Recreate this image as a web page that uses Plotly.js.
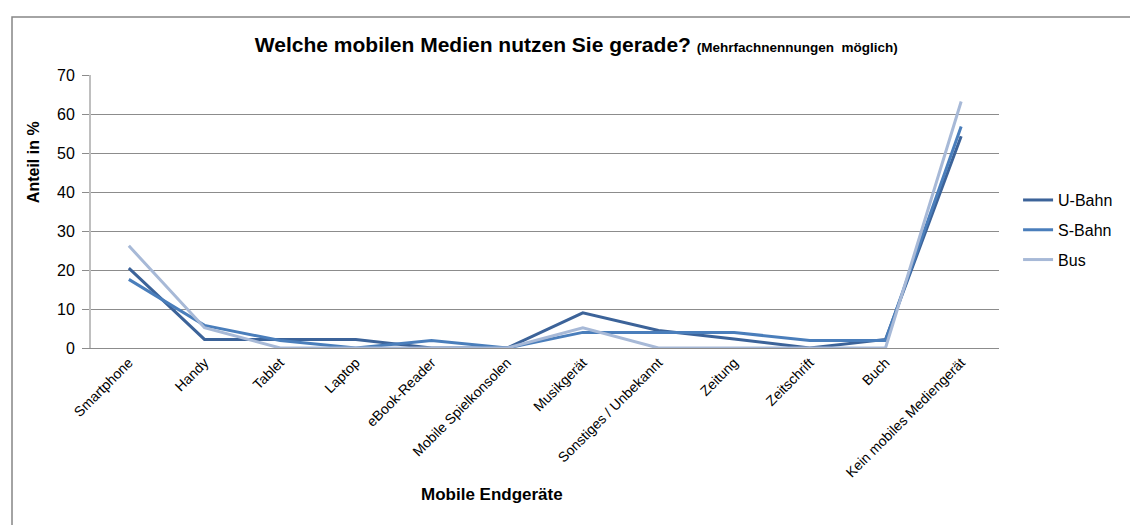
<!DOCTYPE html>
<html>
<head>
<meta charset="utf-8">
<script src="https://cdn.plot.ly/plotly-3.0.1.min.js"></script>
<style>
html,body{margin:0;padding:0;background:#fff;}
#chart{width:1130px;height:525px;}
</style>
</head>
<body>
<div id="chart"></div>
<script>
const categories = ["Smartphone","Handy","Tablet","Laptop","eBook-Reader","Mobile Spielkonsolen","Musikgerät","Sonstiges / Unbekannt","Zeitung","Zeitschrift","Buch","Kein mobiles Mediengerät"];
const uBahn = [20.5, 2.2, 2.2, 2.2, 0, 0, 9.0, 4.5, 2.3, 0, 2.2, 54.3];
const sBahn = [17.6, 5.8, 1.9, 0, 1.9, 0, 4.0, 4.0, 4.0, 1.9, 1.9, 56.8];
const bus   = [26.2, 5.2, 0, 0, 0, 0, 5.2, 0, 0, 0, 0, 63.2];
const seriesNames = ["U-Bahn","S-Bahn","Bus"];
const seriesColors = ["#3C6399","#4A7EBB","#A7B9D7"];
const yTicks = [0,10,20,30,40,50,60,70];

const FONT = "Arial, Liberation Sans, sans-serif";
const allSeries = [uBahn, sBahn, bus];
const traces = allSeries.map((vals, i) => ({
  type: "scatter",
  mode: "lines",
  x: categories,
  y: vals,
  name: seriesNames[i],
  legendgroup: "g" + i,
  line: {color: seriesColors[i], width: 3}
}));

const layout = {
  width: 1130,
  height: 525,
  paper_bgcolor: "#fff",
  plot_bgcolor: "#fff",
  margin: {l: 91, r: 122, t: 75, b: 177},
  showlegend: true,
  legend: {
    x: 1.021, y: 0.432, xanchor: "left", yanchor: "middle",
    font: {family: FONT, size: 16, color: "#000"},
    tracegroupgap: 6, traceorder: "grouped", itemwidth: 30
  },
  title: {
    text: "<b>Welche mobilen Medien nutzen Sie gerade? <span style='font-size:13.5px'>(Mehrfachnennungen  möglich)</span></b>",
    font: {family: FONT, size: 21, color: "#000"},
    x: 0.51, xanchor: "center", y: 0.915, yanchor: "middle", xref: "container"
  },
  xaxis: {
    type: "category",
    tickangle: -45,
    tickfont: {family: FONT, size: 14, color: "#000"},
    showgrid: false,
    showline: true, linecolor: "#8C8C8C", linewidth: 1,
    ticks: "",
    automargin: false,
    range: [-0.5, 11.5]
  },
  yaxis: {
    range: [0, 70],
    tickvals: yTicks,
    ticktext: yTicks.map(String),
    tickfont: {family: FONT, size: 16, color: "#000"},
    showgrid: true, gridcolor: "#8C8C8C", gridwidth: 1,
    showline: true, linecolor: "#BFBFBF", linewidth: 2,
    ticks: "outside", ticklen: 7, tickcolor: "#8C8C8C",
    ticklabelstandoff: 4,
    zeroline: false,
    automargin: false
  },
  annotations: [
    {text: "<b>Mobile Endgeräte</b>", xref: "paper", yref: "paper", x: 0.442, y: -0.538,
     xanchor: "center", yanchor: "middle", showarrow: false,
     font: {family: FONT, size: 17, color: "#000"}},
    {text: "<b>Anteil in %</b>", xref: "paper", yref: "paper", x: -0.063, y: 0.68,
     xanchor: "center", yanchor: "middle", showarrow: false, textangle: -90,
     font: {family: FONT, size: 16, color: "#000"}}
  ],
  shapes: [{
    type: "rect", xref: "paper", yref: "paper",
    x0: -0.087, x1: 1.2, y0: -1.0, y1: 1.2125,
    line: {color: "#868686", width: 1.5}, fillcolor: "rgba(0,0,0,0)", layer: "below"
  }]
};

Plotly.newPlot("chart", traces, layout, {displayModeBar: false, staticPlot: true});
</script>
</body>
</html>
